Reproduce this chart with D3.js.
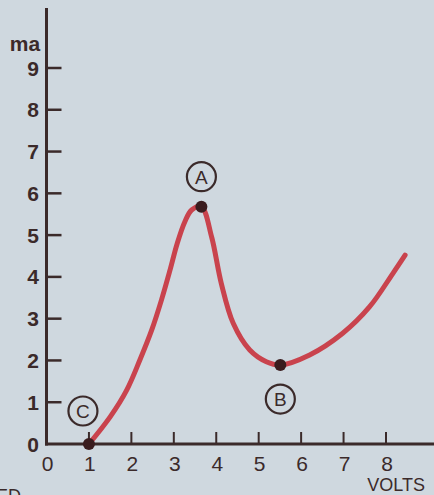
<!DOCTYPE html>
<html><head><meta charset="utf-8">
<script src="https://cdn.jsdelivr.net/npm/d3@7"></script>
<style>html,body{margin:0;padding:0;background:#cfd8df;overflow:hidden}</style>
</head><body>
<script>
const xTicks = [0,1,2,3,4,5,6,7,8];
const yTicks = [0,1,2,3,4,5,6,7,8,9];
const curveX = [1, 1.5, 1.89, 2.2, 2.48, 2.71, 2.91, 3.08, 3.26, 3.42, 3.65, 3.89, 4.12, 4.4, 4.79, 5.18, 5.51, 6.2, 6.98, 7.61, 8.16, 8.45];
const curveY = [0, 0.65, 1.29, 2.01, 2.73, 3.45, 4.16, 4.8, 5.32, 5.6, 5.68, 4.96, 3.84, 2.89, 2.25, 1.97, 1.89, 2.13, 2.65, 3.28, 4.08, 4.52];
const markNames = ["C","A","B"];
const markX = [1, 3.65, 5.51];
const markY = [0, 5.68, 1.89];
const xTitle = "VOLTS";
const yTitle = "ma";

const W = 434, H = 495;
const x = d3.scaleLinear().domain([0,8]).range([46.5,386]);
const y = d3.scaleLinear().domain([0,9]).range([444,68]);
const ink = "#3b2a2a";
const font = "Liberation Sans, Arial, sans-serif";
const svg = d3.select("body").append("svg").attr("width",W).attr("height",H);
svg.append("rect").attr("width",W).attr("height",H).attr("fill","#cfd8df");

// axes lines
svg.append("line").attr("x1",x(0)).attr("x2",x(0)).attr("y1",8).attr("y2",y(0)+1.5)
  .attr("stroke",ink).attr("stroke-width",3);
svg.append("line").attr("x1",x(0)-1.5).attr("x2",W).attr("y1",y(0)).attr("y2",y(0))
  .attr("stroke",ink).attr("stroke-width",3);

// y ticks
const yAxis = svg.append("g");
yTicks.forEach(t=>{
  if(t>0) yAxis.append("line").attr("x1",x(0)).attr("x2",x(0)+15).attr("y1",y(t)).attr("y2",y(t))
    .attr("stroke",ink).attr("stroke-width",2.5);
  yAxis.append("text").attr("x",39).attr("y",y(t)).attr("dy","0.36em").attr("text-anchor","end")
    .attr("font-family",font).attr("font-weight","bold")
    .attr("font-size",21).attr("fill",ink).text(t);
});
svg.append("text").attr("x",25).attr("y",43).attr("dy","0.36em").attr("text-anchor","middle")
  .attr("font-family",font).attr("font-weight","bold")
  .attr("font-size",21).attr("fill",ink).text(yTitle);

// x ticks
const xAxis = svg.append("g");
xTicks.forEach(t=>{
  if(t>0) xAxis.append("line").attr("x1",x(t)).attr("x2",x(t)).attr("y1",y(0)).attr("y2",y(0)-12)
    .attr("stroke",ink).attr("stroke-width",2);
  xAxis.append("text").attr("x",x(t)+1).attr("y",463).attr("dy","0.36em").attr("text-anchor","middle")
    .attr("font-family",font)
    .attr("font-size",21).attr("fill",ink).text(t);
});
svg.append("text").attr("x",425).attr("y",485).attr("dy","0.36em").attr("text-anchor","end")
  .attr("font-family",font)
  .attr("font-size",18).attr("fill",ink).text(xTitle);
svg.append("text").attr("x",-4).attr("y",502)
  .attr("font-family",font)
  .attr("font-size",18).attr("fill",ink).text("ED");

// curve
const pts = curveX.map((v,i)=>[v,curveY[i]]);
const line = d3.line().x(d=>x(d[0])).y(d=>y(d[1])).curve(d3.curveCatmullRom.alpha(0.5));
svg.append("path").attr("d",line(pts)).attr("fill","none").attr("stroke","#c9434d")
  .attr("stroke-width",5).attr("stroke-linecap","round").attr("stroke-linejoin","round");

// marks
const off = {C:[-6,-33],A:[0,-30],B:[0,34]};
markNames.forEach((n,i)=>{
  svg.append("circle").attr("cx",x(markX[i])).attr("cy",y(markY[i])).attr("r",6).attr("fill","#3a1c1e");
  const cx = x(markX[i])+off[n][0], cy = y(markY[i])+off[n][1];
  svg.append("circle").attr("cx",cx).attr("cy",cy).attr("r",14.5).attr("fill","none")
    .attr("stroke",ink).attr("stroke-width",2.2);
  svg.append("text").attr("x",cx).attr("y",cy).attr("dy","0.36em").attr("text-anchor","middle")
    .attr("font-family",font)
    .attr("font-size",19).attr("fill",ink).text(n);
});
</script>
</body></html>
